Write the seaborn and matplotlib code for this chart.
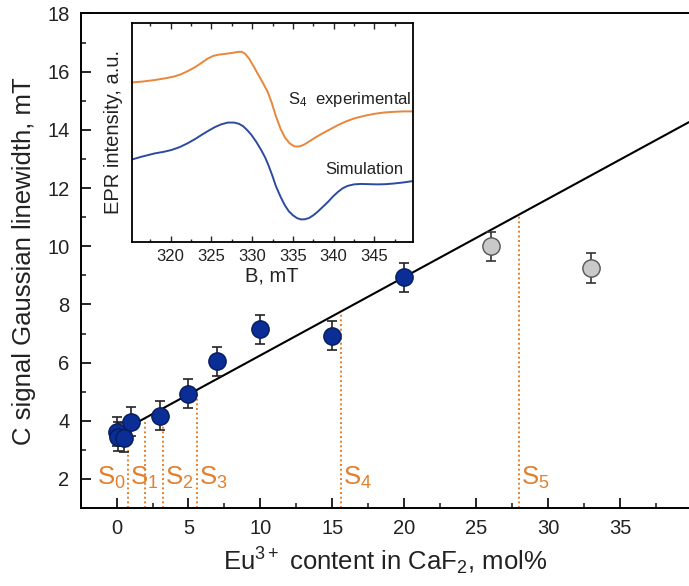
import numpy as np
import pandas as pd
import matplotlib
matplotlib.use("Agg")
import matplotlib.pyplot as plt
import seaborn as sns

# ---- C-signal Gaussian linewidth vs. Eu3+ content ----
eu_content = [0.0, 0.1, 0.5, 1.0, 3.0, 5.0, 7.0, 10.0, 15.0, 20.0]
linewidth = [3.62, 3.45, 3.42, 3.97, 4.17, 4.93, 6.05, 7.15, 6.93, 8.93]
linewidth_err = [0.5, 0.5, 0.5, 0.5, 0.5, 0.5, 0.5, 0.5, 0.5, 0.5]

# points left out of the linear fit
excl_content = [26.0, 33.0]
excl_linewidth = [10.0, 9.25]
excl_err = [0.5, 0.5]

# linear fit: linewidth = intercept + slope * content
fit_intercept = 3.56
fit_slope = 0.269

# samples S0..S5 and their Eu3+ content
sample_names = ["0", "1", "2", "3", "4", "5"]
sample_content = [0.8, 2.0, 3.2, 5.6, 15.6, 28.0]

# ---- inset: EPR spectra (B in mT, intensity in a.u.) ----
exp_B = [315.2, 316.5, 318.0, 319.5, 320.5, 321.3, 322.1, 323.0, 323.8, 324.5,
         325.2, 325.9, 326.6, 327.4, 328.2, 328.7, 329.1, 329.6, 330.2, 330.8,
         331.4, 331.9, 332.4, 332.9, 333.5, 334.0, 334.6, 335.2, 335.8, 336.4,
         337.0, 337.8, 338.6, 339.5, 340.5, 341.5, 342.6, 343.8, 345.0, 346.2,
         347.4, 348.6, 349.7]
exp_I = [72.8, 73.2, 73.9, 74.8, 75.6, 76.6, 78.0, 79.8, 81.8, 83.6,
         84.9, 85.5, 85.8, 86.2, 86.7, 86.8, 86.0, 83.8, 80.0, 76.0,
         72.0, 68.5, 63.5, 57.5, 51.5, 47.8, 45.0, 43.6, 43.6, 44.5,
         45.9, 47.8, 49.5, 51.3, 53.3, 55.0, 56.5, 57.6, 58.5, 59.1,
         59.4, 59.6, 59.6]
sim_B = [315.0, 316.4, 318.0, 319.2, 320.1, 321.1, 322.1, 323.0, 323.8, 324.6,
         325.4, 326.2, 327.0, 327.8, 328.4, 328.9, 329.4, 329.9, 330.5, 331.1,
         331.6, 332.0, 332.5, 332.9, 333.5, 334.0, 334.5, 335.0, 335.5, 336.0,
         336.5, 337.0, 337.5, 338.0, 338.6, 339.3, 339.9, 340.5, 341.1, 341.7,
         342.5, 343.3, 344.3, 345.4, 346.4, 347.4, 348.6, 349.7]
sim_I = [37.4, 38.9, 40.4, 41.2, 42.0, 43.3, 45.1, 47.0, 48.9, 50.7,
         52.4, 53.7, 54.5, 54.5, 53.9, 52.8, 51.0, 48.9, 45.7, 42.0,
         38.5, 35.0, 30.0, 25.6, 20.5, 16.8, 14.0, 12.2, 10.9, 10.3,
         10.4, 11.0, 12.2, 13.7, 15.8, 18.3, 20.7, 22.8, 24.5, 25.6,
         26.3, 26.5, 26.4, 26.3, 26.4, 26.7, 27.2, 27.8]

sns.set_theme(style="ticks")
plt.rcParams["font.family"] = ["Liberation Sans", "DejaVu Sans"]
plt.rcParams["mathtext.fontset"] = "custom"
plt.rcParams["mathtext.rm"] = "Liberation Sans"
plt.rcParams["mathtext.it"] = "Liberation Sans"
plt.rcParams["mathtext.bf"] = "Liberation Sans:bold"

ORANGE = "#e4802c"
BLUE_FILL = "#0a2d96"
BLUE_EDGE = "#061c5e"

fig = plt.figure(figsize=(6.89, 5.86), dpi=100)
ax = fig.add_axes([0.117, 0.133, 0.883, 0.844])

ax.set_xlim(-2.45, 39.8)
ax.set_ylim(1, 18)

# fit line across the visible range
fit_x = np.array([0.0, ax.get_xlim()[1]])
ax.plot(fit_x, fit_intercept + fit_slope * fit_x, color="black", lw=1.5, zorder=2)

# dotted markers for the samples, from the axis up to the fit line
for name, xs in zip(sample_names, sample_content):
    ax.plot([xs, xs], [1, fit_intercept + fit_slope * xs], color=ORANGE,
            linestyle=(0, (1, 1.4)), lw=1.4, zorder=1)

label_x = [0.62, 0.95, 3.35, 5.75, 15.75, 28.15]
label_ha = ["right", "left", "left", "left", "left", "left"]
for name, lx, ha in zip(sample_names, label_x, label_ha):
    ax.text(lx, 1.8, r"S$_{%s}$" % name, color=ORANGE, fontsize=18.5,
            ha=ha, va="baseline", zorder=3)

# error bars + markers
ax.errorbar(eu_content, linewidth, yerr=linewidth_err, fmt="none",
            ecolor="#222222", elinewidth=1.2, capsize=3.5, capthick=1.2, zorder=3)
ax.errorbar(excl_content, excl_linewidth, yerr=excl_err, fmt="none",
            ecolor="#333333", elinewidth=1.2, capsize=3.5, capthick=1.2, zorder=3)

main_df = pd.DataFrame({"x": eu_content, "y": linewidth})
excl_df = pd.DataFrame({"x": excl_content, "y": excl_linewidth})
sns.scatterplot(data=main_df, x="x", y="y", ax=ax, s=155, color=BLUE_FILL,
                edgecolor=BLUE_EDGE, linewidth=1.0, zorder=4)
sns.scatterplot(data=excl_df, x="x", y="y", ax=ax, s=155, color="#c9c9c9",
                edgecolor="#555555", linewidth=1.0, zorder=4)

ax.set_xticks(np.arange(0, 40, 5))
ax.set_xticks(np.arange(-2.5, 40, 2.5), minor=True)
ax.set_yticks(np.arange(2, 19, 2))
ax.set_yticks(np.arange(1, 19, 1), minor=True)
ax.tick_params(axis="both", which="major", direction="in", length=7, width=1.2,
               labelsize=14.5, pad=8, color="black", labelcolor="#222222")
ax.tick_params(axis="both", which="minor", direction="in", length=3.5, width=1.2)
ax.tick_params(top=False, right=False, which="both")

for side in ["left", "bottom", "top"]:
    ax.spines[side].set_linewidth(1.4)
    ax.spines[side].set_color("black")
ax.spines["right"].set_visible(False)

ax.set_xlabel(r"Eu$^{3+}$ content in CaF$_{2}$, mol%", fontsize=18.5,
              labelpad=5, color="#222222")
ax.set_ylabel("C signal Gaussian linewidth, mT", fontsize=18.5, labelpad=8,
              color="#222222")

# ---- inset ----
axins = fig.add_axes([0.191, 0.587, 0.408, 0.374])
sns.lineplot(x=exp_B, y=exp_I, ax=axins, color="#e8863a", lw=1.4)
sns.lineplot(x=sim_B, y=sim_I, ax=axins, color="#2d4b9e", lw=1.4)
axins.set_xlim(315.2, 349.7)
axins.set_ylim(0, 100)
axins.set_xticks(np.arange(320, 350, 5))
axins.set_xticks(np.arange(317.5, 350, 2.5), minor=True)
axins.set_yticks([])
axins.tick_params(axis="x", which="both", direction="in", top=True, bottom=True,
                  width=1.0, labelsize=12, pad=5, labelcolor="#222222")
axins.tick_params(axis="x", which="major", length=4)
axins.tick_params(axis="x", which="minor", length=2.5)
for sp in axins.spines.values():
    sp.set_linewidth(1.3)
    sp.set_color("black")
axins.set_xlabel("B, mT", fontsize=14.5, labelpad=2, color="#222222")
axins.set_ylabel("EPR intensity, a.u.", fontsize=14.5, labelpad=6, color="#222222")

axins.text(349.5, 65, r"S$_{4}$  experimental", fontsize=12, ha="right",
           va="center", color="#222222")
axins.text(348.5, 33, "Simulation", fontsize=12, ha="right", va="center",
           color="#222222")

fig.savefig("out.png", dpi=100)
